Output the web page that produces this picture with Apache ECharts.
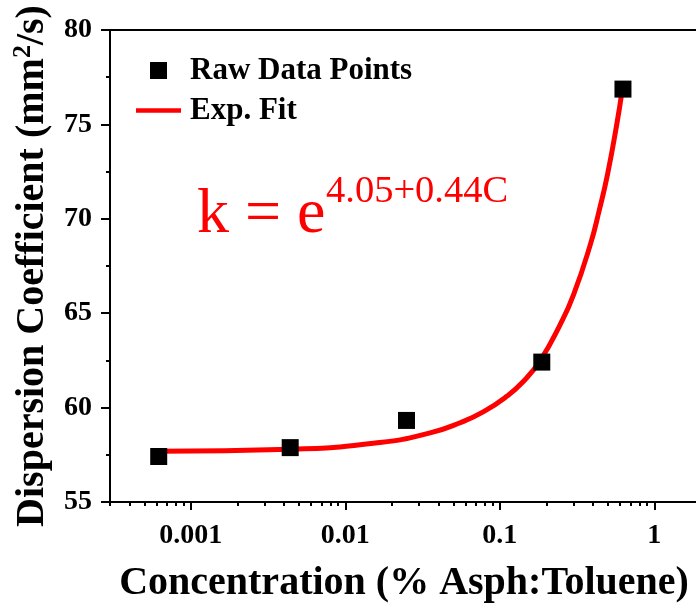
<!DOCTYPE html>
<html>
<head>
<meta charset="utf-8">
<title>Dispersion Coefficient vs Concentration</title>
<script src="https://cdn.jsdelivr.net/npm/echarts@6/dist/echarts.min.js"></script>
<style>
  html, body { margin: 0; padding: 0; background: #fff; }
  #chart { width: 696px; height: 613px; }
</style>
</head>
<body>
<div id="chart"></div>
<script>
// Measured dispersion coefficients
const concentration = [0.00062, 0.0044, 0.0249, 0.187, 0.627];
const dispersion = [57.41, 57.88, 59.32, 62.41, 76.87];

// Exponential fit curve, sampled along its length
const fitConcentration = [0.000625, 0.00439, 0.0168, 0.0354, 0.0554, 0.0781, 0.111, 0.142, 0.183, 0.246, 0.30, 0.385, 0.44, 0.498, 0.573, 0.618];
const fitDispersion = [57.69, 57.79, 58.15, 58.66, 59.20, 59.77, 60.60, 61.38, 62.50, 64.40, 65.97, 68.62, 70.44, 72.35, 75.05, 76.75];

// Axis settings
const xMin = 0.0003, xMax = 3;
const yMin = 55, yMax = 80, yStep = 5;
const xTickLabels = ['0.001', '0.01', '0.1', '1'];

// Log-spaced minor ticks (2..9 x 10^n) inside the axis range
const xMinorTicks = [];
for (let d = -4; d <= 0; d++) {
  for (let m = 2; m <= 9; m++) {
    const v = m * Math.pow(10, d);
    if (v >= xMin && v <= xMax) xMinorTicks.push(Math.log10(v));
  }
}

const serif = "'Liberation Serif', 'Times New Roman', serif";
const black = '#000';
const red = '#ff0000';

const chart = echarts.init(document.getElementById('chart'), null, { renderer: 'canvas' });

chart.setOption({
  animation: false,
  backgroundColor: '#fff',
  grid: {
    left: 110, top: 30, width: 618, bottom: 111,
    outerBoundsMode: 'none', containLabel: false,
    show: true, borderColor: black, borderWidth: 2, backgroundColor: 'transparent'
  },
  legend: {
    orient: 'vertical',
    left: 136, top: 55, padding: 0,
    itemWidth: 45, itemHeight: 17, itemGap: 9,
    symbolKeepAspect: true,
    textStyle: { fontFamily: serif, fontWeight: 'bold', fontSize: 31, lineHeight: 30, color: black, padding: [0, 0, 0, 4] },
    data: [
      { name: 'Raw Data Points', icon: 'path://M0,0L17,0L17,17L0,17Z', itemStyle: { color: black, opacity: 1 } },
      { name: 'Exp. Fit', icon: 'path://M0,0L45,0L45,4.5L0,4.5Z', itemStyle: { color: red } }
    ]
  },
  xAxis: [
    {
      type: 'log', logBase: 10, min: xMin, max: xMax,
      position: 'bottom',
      name: 'Concentration (% Asph:Toluene)',
      nameLocation: 'middle', nameGap: 62,
      nameTextStyle: { fontFamily: serif, fontWeight: 'bold', fontSize: 40, color: black, padding: [0, 30, 0, 0] },
      axisLine: { show: true, onZero: false, lineStyle: { color: black, width: 2 } },
      axisTick: { show: true, inside: false, length: 8, lineStyle: { color: black, width: 2 } },
      axisLabel: {
        showMinLabel: false, showMaxLabel: false, margin: 20,
        fontFamily: serif, fontWeight: 'bold', fontSize: 28, color: black,
        formatter: v => {
          const s = xTickLabels.find(t => Math.abs(Math.log10(parseFloat(t)) - Math.log10(v)) < 1e-6);
          return s || '';
        }
      },
      splitLine: { show: false },
      minorTick: { show: false }
    },
    {
      type: 'value', min: Math.log10(xMin), max: Math.log10(xMax),
      position: 'bottom',
      axisLine: { show: false, onZero: false },
      axisLabel: { show: false },
      axisTick: { show: true, inside: false, length: 4, customValues: xMinorTicks, lineStyle: { color: black, width: 2 } },
      splitLine: { show: false }
    }
  ],
  yAxis: {
    type: 'value', min: yMin, max: yMax, interval: yStep,
    position: 'left',
    name: '{t|Dispersion Coefficient (mm}{s|2}{t|/s)}',
    nameLocation: 'middle', nameGap: 50,
    nameTextStyle: {
      rich: {
        t: { fontFamily: serif, fontWeight: 'bold', fontSize: 40, lineHeight: 46, color: black },
        s: { fontFamily: serif, fontWeight: 'bold', fontSize: 26, lineHeight: 26, verticalAlign: 'top', color: black }
      }
    },
    axisLine: { show: true, onZero: false, lineStyle: { color: black, width: 2 } },
    axisTick: { show: true, inside: false, length: 9, lineStyle: { color: black, width: 2 } },
    minorTick: { show: true, splitNumber: 2, length: 4, lineStyle: { color: black, width: 2 } },
    axisLabel: { margin: 18, fontFamily: serif, fontWeight: 'bold', fontSize: 28, color: black },
    splitLine: { show: false },
    minorSplitLine: { show: false }
  },
  graphic: [
    {
      type: 'text', left: 197, top: 183, silent: true,
      style: { text: 'k = e', fontFamily: serif, fontSize: 64, fill: red }
    },
    {
      type: 'text', left: 326, top: 172, silent: true,
      style: { text: '4.05+0.44C', fontFamily: serif, fontSize: 38.5, fill: red }
    }
  ],
  series: [
    {
      name: 'Exp. Fit',
      type: 'line',
      xAxisIndex: 0,
      data: fitConcentration.map((c, i) => [c, fitDispersion[i]]),
      smooth: 0.5,
      symbol: 'none',
      lineStyle: { color: red, width: 5 },
      itemStyle: { color: red },
      z: 2
    },
    {
      name: 'Raw Data Points',
      type: 'scatter',
      xAxisIndex: 0,
      data: concentration.map((c, i) => [c, dispersion[i]]),
      symbol: 'rect',
      symbolSize: 17,
      itemStyle: { color: black, opacity: 1 },
      z: 3
    }
  ]
});
</script>
</body>
</html>
